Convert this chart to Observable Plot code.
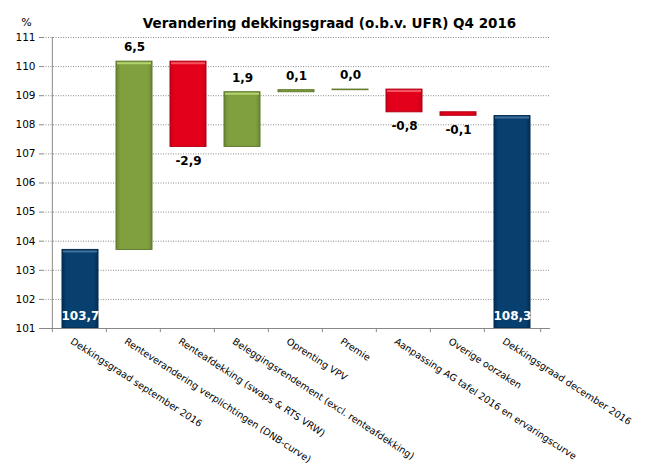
<!DOCTYPE html>
<html>
<head>
<meta charset="utf-8">
<script src="https://cdn.jsdelivr.net/npm/d3@7"></script>
<script src="https://cdn.jsdelivr.net/npm/@observablehq/plot@0.6"></script>
<style>
  body { margin: 0; background: #fff; }
  #chart svg { display: block; }
</style>
</head>
<body>
<div id="chart"></div>
<script>
const categories = [
  "Dekkingsgraad september 2016",
  "Renteverandering verplichtingen (DNB-curve)",
  "Renteafdekking (swaps & RTS VRW)",
  "Beleggingsrendement (excl. renteafdekking)",
  "Oprenting VPV",
  "Premie",
  "Aanpassing AG tafel 2016 en ervaringscurve",
  "Overige oorzaken",
  "Dekkingsgraad december 2016"
];
const startValue = 103.7;
const endValue = 108.3;
const deltas = [null, 6.47, -2.93, 1.88, 0.07, 0.02, -0.78, -0.12, null];
const yTicks = [101, 102, 103, 104, 105, 106, 107, 108, 109, 110, 111];

const W = 658, H = 469;
const mL = 43, mR = 108, mT = 37, mB = 141;
const step = (W - mL - mR) / categories.length;
const base = 101;

const fmt = v => v.toFixed(1).replace(".", ",");

let cum = startValue;
const rows = categories.map((c, i) => {
  if (i === 0) return {cat: c, y1: base, y2: startValue, type: "total", value: startValue};
  if (i === categories.length - 1) return {cat: c, y1: base, y2: endValue, type: "total", value: endValue};
  const d = deltas[i];
  const r = {cat: c, y1: cum, y2: cum + d, type: d >= 0 ? "up" : "down", value: d};
  cum += d;
  return r;
});

const palette = {
  total: {edge: "#032F55", mid: "#073F6E", stroke: "#022A4B", hi: "#3F6F9B"},
  up:    {edge: "#6A8634", mid: "#80A040", stroke: "#5F7A2C", hi: "#B5D36E"},
  down:  {edge: "#C50016", mid: "#E3001B", stroke: "#B00014", hi: "#F4545F"}
};

const defsMark = () => {
  const defs = d3.create("svg:defs");
  for (const [k, p] of Object.entries(palette)) {
    const g = defs.append("linearGradient").attr("id", "grad-" + k)
      .attr("x1", "0").attr("x2", "1").attr("y1", "0").attr("y2", "0");
    g.append("stop").attr("offset", "0").attr("stop-color", p.edge);
    g.append("stop").attr("offset", "0.12").attr("stop-color", p.mid);
    g.append("stop").attr("offset", "0.88").attr("stop-color", p.mid);
    g.append("stop").attr("offset", "1").attr("stop-color", p.edge);
  }
  return defs.node();
};

const totals = rows.filter(r => r.type === "total");
const ups = rows.filter(r => r.type === "up");
const downs = rows.filter(r => r.type === "down");

const chart = Plot.plot({
  width: W, height: H,
  marginLeft: mL, marginRight: mR, marginTop: mT, marginBottom: mB,
  style: {fontFamily: "DejaVu Sans, Verdana, sans-serif", fontSize: "10px", color: "#000"},
  x: {domain: categories, padding: 0.33, label: null},
  y: {domain: [101, 111], label: null},
  marks: [
    defsMark,
    Plot.gridY(yTicks, {stroke: "#8a8a8a", strokeOpacity: 1, strokeDasharray: "1,1.5"}),
    Plot.axisY(yTicks, {tickSize: 4, tickPadding: 4, fontSize: 10.5, stroke: "#888", tickFormat: d => d, label: null}),
    Plot.axisX({tickRotate: 33, tickSize: 0, tickPadding: 12, textAnchor: "start", fontSize: 9.6, label: null, dx: -9}),
    Plot.barY(rows, {
      x: "cat", y1: "y1", y2: "y2",
      fill: d => "url(#grad-" + d.type + ")", stroke: d => palette[d.type].stroke, strokeWidth: 1
    }),
    Plot.tickY(rows.filter(r => Math.abs(r.y2 - r.y1) > 0.2), {
      x: "cat", y: d => Math.max(d.y1, d.y2), dy: 1.5, stroke: d => palette[d.type].hi,
      strokeWidth: 2, insetLeft: 1, insetRight: 1
    }),
    // x axis line and ticks at band boundaries
    Plot.ruleY([101], {stroke: "#888"}),
    Plot.ruleX(categories, {x: d => d, dx: -step / 2, y1: 101, y2: 100.86, stroke: "#888", clip: false}),
    Plot.ruleX([categories[categories.length - 1]], {x: d => d, dx: step / 2, y1: 101, y2: 100.86, stroke: "#888"}),
    Plot.ruleX([categories[0]], {x: d => d, dx: -step / 2, y1: 101, y2: 111, stroke: "#888"}),
    // labels
    Plot.text(totals, {x: "cat", y: base, dy: -12, text: d => fmt(d.value), fill: "#fff", fontWeight: "bold", fontSize: 12}),
    Plot.text(ups, {x: "cat", y: "y2", dy: -14, text: d => fmt(d.value), fill: "#000", fontWeight: "bold", fontSize: 12}),
    Plot.text(downs, {x: "cat", y: "y2", dy: 14, text: d => fmt(d.value), fill: "#000", fontWeight: "bold", fontSize: 12}),
    // title and unit
    Plot.text(["Verandering dekkingsgraad (o.b.v. UFR) Q4 2016"], {frameAnchor: "top-left", dx: 286, dy: -19, textAnchor: "middle", fontWeight: "bold", fontSize: 13.5}),
    Plot.text(["%"], {frameAnchor: "top-left", dx: -17, dy: -19, textAnchor: "middle", fontSize: 11})
  ]
});
document.getElementById("chart").appendChild(chart);
</script>
</body>
</html>
